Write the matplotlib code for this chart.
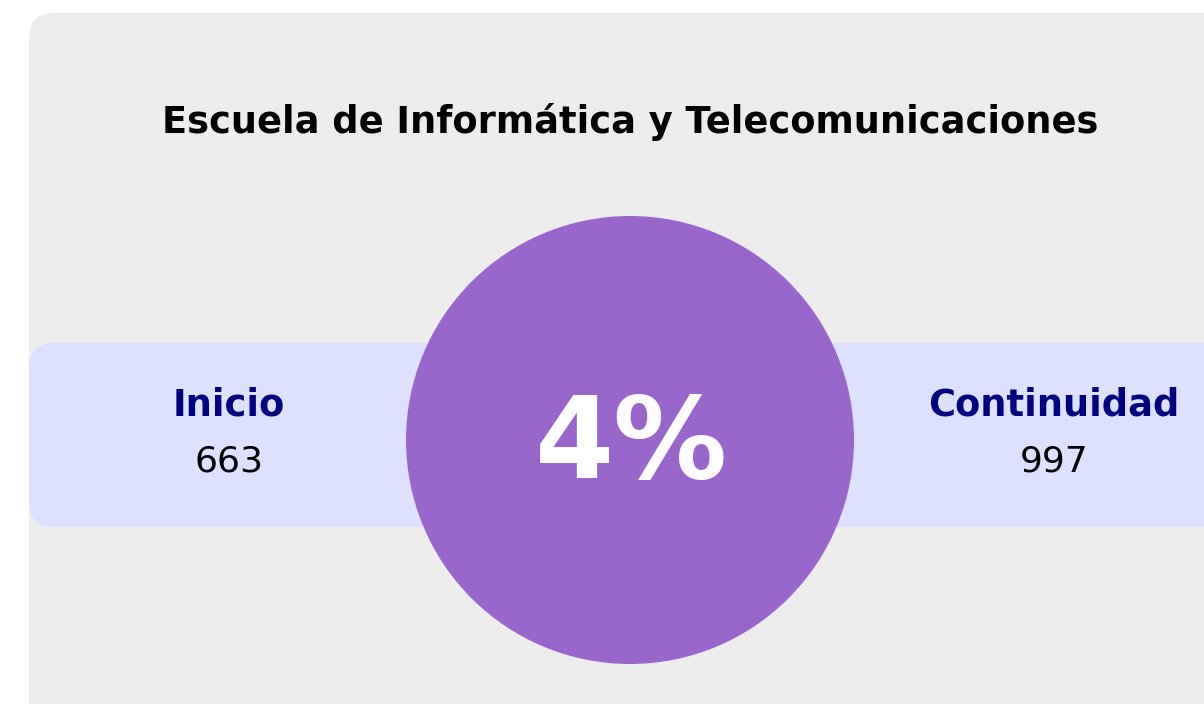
import matplotlib.pyplot as plt
from matplotlib.patches import FancyBboxPatch, Circle

title = "Escuela de Informática y Telecomunicaciones"
labels = ["Inicio", "Continuidad"]
counts = [663, 997]
pct = 4

W, H = 1204, 704
plt.rcParams['font.family'] = ['DejaVu Sans']

fig = plt.figure(figsize=(W / 100, H / 100), dpi=100)
ax = fig.add_axes([0, 0, 1, 1], frameon=False)
ax.set_xlim(0, W)
ax.set_ylim(H, 0)
ax.set_xticks([])
ax.set_yticks([])

# gray card (runs off the right and bottom edges)
ax.add_patch(FancyBboxPatch((29 + 25, 13 + 25), 1300 - 50, 800 - 50,
                            boxstyle="round,pad=25", fc="#ededed", ec="none"))
# lavender band
ax.add_patch(FancyBboxPatch((29 + 25, 343 + 25), 1300 - 50, 184 - 50,
                            boxstyle="round,pad=25", fc="#dde0ff", ec="none"))
# purple circle
ax.add_patch(Circle((630, 440), 224, fc="#9966cc", ec="none"))

ax.text(630, 122, title, ha="center", va="center", fontsize=26.5,
        fontweight="bold", color="black")
ax.text(631, 447, f"{pct}%", ha="center", va="center", fontsize=82,
        fontweight="bold", color="white")

xs = [229, 1054]
for x, lab, c in zip(xs, labels, counts):
    ax.text(x, 405, lab, ha="center", va="center", fontsize=26.5,
            fontweight="bold", color="#000080")
    ax.text(x, 462, str(c), ha="center", va="center", fontsize=26,
            color="black")

fig.savefig("out.png", dpi=100)
